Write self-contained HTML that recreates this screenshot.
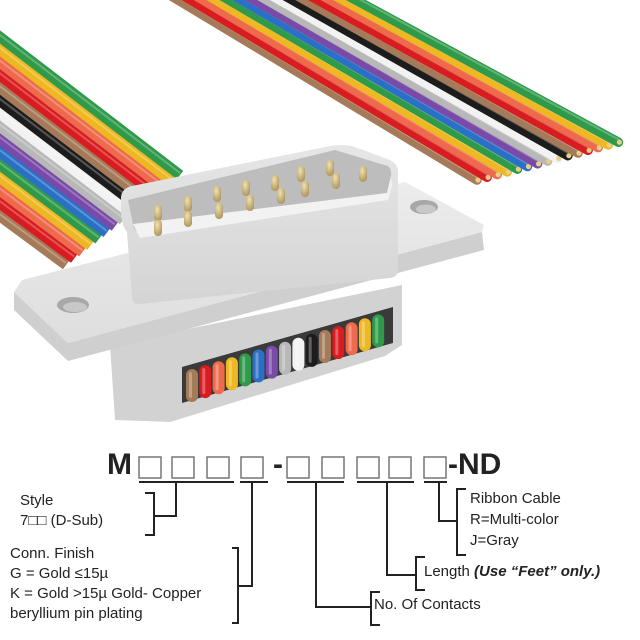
<!DOCTYPE html>
<html><head><meta charset="utf-8"><style>
html,body{margin:0;padding:0;background:#fff;}
#w{position:relative;width:640px;height:640px;overflow:hidden;font-family:"Liberation Sans",sans-serif;}
svg{position:absolute;left:0;top:0;}
.t{position:absolute;font-size:15px;color:#222;white-space:nowrap;line-height:20px;}
</style></head><body><div id="w">
<svg id="s" width="640" height="640" viewBox="0 0 640 640">
<defs>
<linearGradient id="gf" x1="0" y1="0" x2="0" y2="1"><stop offset="0" stop-color="#ececec"/><stop offset="1" stop-color="#dedede"/></linearGradient>
<linearGradient id="gs" x1="0" y1="0" x2="0" y2="1"><stop offset="0" stop-color="#e6e6e6"/><stop offset="1" stop-color="#d4d4d4"/></linearGradient>
<radialGradient id="gp" cx="0.4" cy="0.3" r="0.7"><stop offset="0" stop-color="#f0e2b0"/><stop offset="1" stop-color="#b09860"/></radialGradient>
</defs>
<g id="rib"></g>
<!-- lower box -->
<polygon points="110,345 402,285 402,345 385,356 170,422 115,420" fill="#d2d2d2"/>
<polygon points="182,367 393,307 393,343 182,403" fill="#3a3a3a"/>
<g id="ends"></g>
<!-- flange -->
<polygon points="14,292 68,343 482,232 484,250 68,361 14,310" fill="#cfcfcf"/>
<polygon points="22,280 405,182 484,225 482,232 68,343 14,292" fill="url(#gf)"/>
<ellipse cx="73" cy="305" rx="16" ry="8" fill="#a8a8a8"/>
<ellipse cx="75" cy="307" rx="12" ry="5" fill="#c8c8c8"/>
<ellipse cx="424" cy="207" rx="14" ry="7" fill="#a8a8a8"/>
<ellipse cx="426" cy="209" rx="10" ry="4.5" fill="#c8c8c8"/>
<!-- shell -->
<path d="M121,197 Q122,188 132,186 L330,146 Q342,144 352,146 L390,160 Q398,164 398,172 L398,270 Q398,277 390,278 L140,304 Q132,305 132,297 L127,232 Q121,225 121,210 Z" fill="url(#gs)"/>
<path d="M128,200 L335,150 L388,166 Q392,170 391,176 L387,193 L140,232 Q134,232 133,224 Z" fill="#bdbdbd"/>
<path d="M133,224 L387,193 L391,176 L392,186 L388,200 L140,238 Z" fill="#f2f2f2"/>
<g id="pins"></g>
</svg>
<div class="t" style="left:107px;top:448px;font-size:30px;font-weight:bold;line-height:34px;">M</div>
<div class="t" style="left:273px;top:448px;font-size:30px;font-weight:bold;line-height:34px;">-</div>
<div class="t" style="left:448px;top:448px;font-size:30px;font-weight:bold;line-height:34px;">-ND</div>
<svg width="640" height="640" viewBox="0 0 640 640" fill="none" stroke="#222" stroke-width="2">
<g stroke="#777" stroke-width="1.5">
<rect x="139" y="457" width="22" height="21"/><rect x="172" y="457" width="22" height="21"/><rect x="207" y="457" width="22" height="21"/><rect x="241" y="457" width="22" height="21"/>
<rect x="287" y="457" width="22" height="21"/><rect x="322" y="457" width="22" height="21"/><rect x="357" y="457" width="22" height="21"/><rect x="389" y="457" width="22" height="21"/><rect x="424" y="457" width="22" height="21"/>
</g>
<path d="M139,482H234M240,482H268M287,482H344M357,482H414M424,482H447"/>
<path d="M176,482V516H154M145,493H154V535H145"/>
<path d="M252,482V586H238M232,548H238V623H232"/>
<path d="M316,482V607H371M380,592H371V625H380"/>
<path d="M387,482V575H416M425,557H416V590H425"/>
<path d="M439,482V521H457M466,489H457V555H466"/>
</svg>
<div class="t" style="left:20px;top:491px;">Style</div>
<div class="t" style="left:20px;top:511px;">7□□ (D-Sub)</div>
<div class="t" style="left:10px;top:544px;">Conn. Finish</div>
<div class="t" style="left:10px;top:564px;">G = Gold ≤15µ</div>
<div class="t" style="left:10px;top:584px;">K = Gold &gt;15µ Gold- Copper</div>
<div class="t" style="left:10px;top:604px;">beryllium pin plating</div>
<div class="t" style="left:470px;top:489px;">Ribbon Cable</div>
<div class="t" style="left:470px;top:510px;">R=Multi-color</div>
<div class="t" style="left:470px;top:531px;">J=Gray</div>
<div class="t" style="left:424px;top:562px;">Length <b><i>(Use “Feet” only.)</i></b></div>
<div class="t" style="left:374px;top:595px;">No. Of Contacts</div>
</div>
<script>
(function(){
var NS="http://www.w3.org/2000/svg";
function el(p,n,a){var e=document.createElementNS(NS,n);for(var k in a)e.setAttribute(k,a[k]);p.appendChild(e);return e;}
var C={br:"#a47a58",r:"#d81c20",o:"#ee6a4c",y:"#eeb822",g:"#2f9a4a",b:"#2a70c6",p:"#7a4aa8",gr:"#b8b8b8",w:"#f2f2f2",k:"#1c1c1c"};
var rc=["br","r","o","y","g","b","p","gr","w","k","br","r","o","y","g"];
var rib=document.getElementById("rib"),ends=document.getElementById("ends");
var lc=rc.slice().reverse();
for(var i=14;i>=0;i--){var ex=180-8.14*i,ey=175+6.43*i,sy=37+12.8*i;
 var s=(ey-sy)/ex;
 el(rib,"line",{x1:-20,y1:sy-20*s,x2:ex,y2:ey,stroke:C[lc[i]],"stroke-width":10.5});
 el(rib,"line",{x1:-20,y1:sy-20*s-2,x2:ex,y2:ey-2,stroke:"rgba(255,255,255,0.25)","stroke-width":2});
}
for(var i=0;i<15;i++){var ex=477+10.1*i,ey=180-2.7*i,sx=178+12.7*i;
 var dx=ex-sx,dy=ey;
 el(rib,"line",{x1:sx-dx*10/dy,y1:-10,x2:ex,y2:ey,stroke:C[rc[i]],"stroke-width":9.5,"stroke-linecap":"round"});
 el(rib,"line",{x1:sx-dx*10/dy+1.5,y1:-12,x2:ex+1.5,y2:ey-2,stroke:"rgba(255,255,255,0.25)","stroke-width":2});
 el(rib,"circle",{cx:ex+1,cy:ey,r:2.6,fill:"#e6cf8a"});
}
for(var i=0;i<15;i++){var x=192+13.3*i,ty=369-3.9*i;
 el(ends,"rect",{x:x-6,y:ty,width:12,height:33,rx:6,fill:C[rc[i]]});
 el(ends,"rect",{x:x-3,y:ty+3,width:3,height:26,rx:1.5,fill:"rgba(255,255,255,0.3)"});
}
var pins=document.getElementById("pins");
var tr=[[158,212],[188,203],[217,193],[246,187],[275,182],[301,173],[330,167],[363,173]];
var br=[[158,227],[188,218],[219,210],[250,202],[281,195],[305,188],[336,180]];
tr.concat(br).forEach(function(p){
 el(pins,"rect",{x:p[0]-4,y:p[1]-7,width:8,height:16,rx:4,fill:"url(#gp)"});
});
})();
</script>
</body></html>
